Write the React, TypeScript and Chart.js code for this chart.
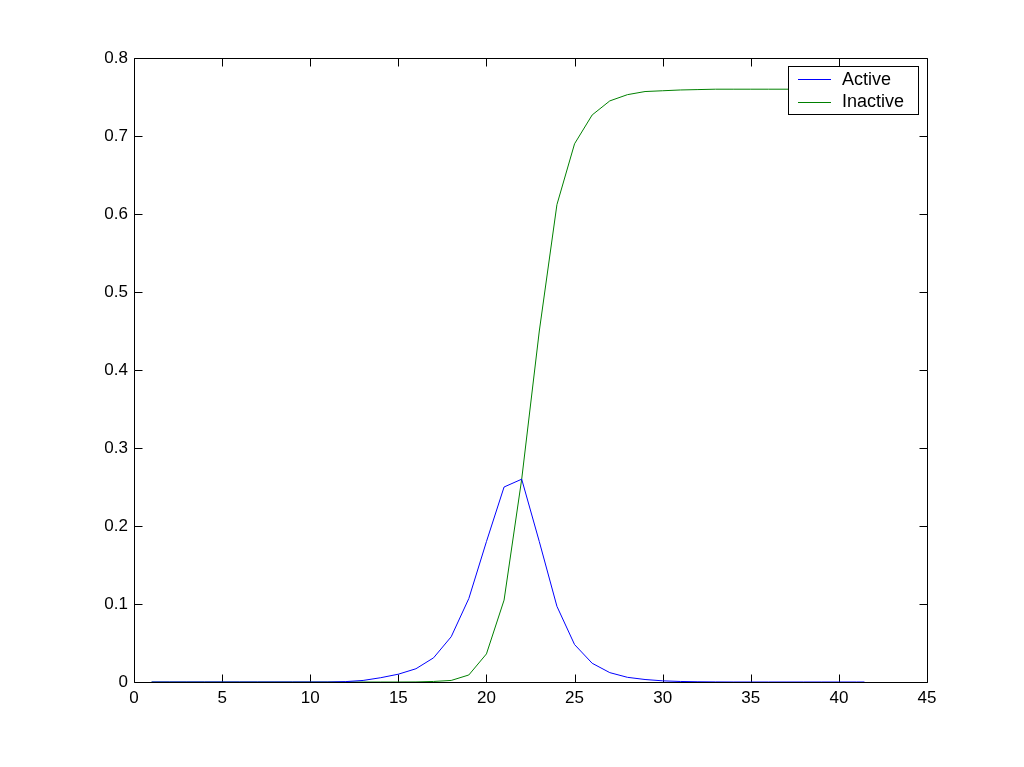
import React, { useEffect, useRef } from "react";
import { Chart, registerables } from "chart.js";

Chart.register(...registerables);

const xValues = [1, 2, 3, 4, 5, 6, 7, 8, 9, 10, 11, 12, 13, 14, 15, 16, 17, 18, 19, 20, 21, 22, 23, 24, 25, 26, 27, 28, 29, 30, 31, 32, 33, 34, 35, 36, 37, 38, 39, 40, 41, 41.45];
const activeValues = [0, 0, 0, 0, 0, 0, 0, 0, 0, 0, 0, 0.0005, 0.002, 0.0055, 0.01, 0.017, 0.031, 0.058, 0.107, 0.18, 0.25, 0.26, 0.18, 0.097, 0.048, 0.024, 0.012, 0.006, 0.0032, 0.0015, 0.0007, 0.0003, 0.0001, 0, 0, 0, 0, 0, 0, 0, 0, 0];
const inactiveValues = [0, 0, 0, 0, 0, 0, 0, 0, 0, 0, 0, 0, 0, 0, 0, 0.0001, 0.0007, 0.002, 0.009, 0.036, 0.105, 0.26, 0.45, 0.612, 0.69, 0.727, 0.745, 0.753, 0.757, 0.758, 0.759, 0.7595, 0.76, 0.76, 0.76, 0.76, 0.76, 0.76, 0.76, 0.76, 0.76, 0.76];
const seriesLabels = ["Active", "Inactive"];
const seriesColors = ["#0000ff", "#008000"];
const xTicks = [0, 5, 10, 15, 20, 25, 30, 35, 40, 45];
const yTicks = [0, 0.1, 0.2, 0.3, 0.4, 0.5, 0.6, 0.7, 0.8];

const FONT = "'Liberation Sans', Arial, Helvetica, sans-serif";

const framePlugin = {
  id: "matlabFrame",
  beforeDatasetsDraw(chart: any) {
    const { ctx, chartArea } = chart;
    const xs = chart.scales.x;
    const ys = chart.scales.y;
    const l = Math.round(chartArea.left) + 0.5;
    const r = Math.round(chartArea.right) + 0.5;
    const t = Math.round(chartArea.top) + 0.5;
    const b = Math.round(chartArea.bottom) + 0.5;
    const tl = 8;
    ctx.save();
    ctx.strokeStyle = "#000";
    ctx.lineWidth = 1;
    ctx.beginPath();
    ctx.rect(l, t, r - l, b - t);
    for (const v of xTicks) {
      const px = Math.round(xs.getPixelForValue(v)) + 0.5;
      ctx.moveTo(px, b);
      ctx.lineTo(px, b - tl);
      ctx.moveTo(px, t);
      ctx.lineTo(px, t + tl);
    }
    for (const v of yTicks) {
      const py = Math.round(ys.getPixelForValue(v)) + 0.5;
      ctx.moveTo(l, py);
      ctx.lineTo(l + tl, py);
      ctx.moveTo(r, py);
      ctx.lineTo(r - tl, py);
    }
    ctx.stroke();
    ctx.restore();
  },
  afterDraw(chart: any) {
    const { ctx } = chart;
    ctx.save();
    const bx = 788.5, by = 66.5, bw = 130, bh = 48;
    ctx.fillStyle = "#fff";
    ctx.fillRect(bx, by, bw, bh);
    ctx.strokeStyle = "#000";
    ctx.lineWidth = 1;
    ctx.strokeRect(bx, by, bw, bh);
    ctx.font = `18px ${FONT}`;
    ctx.textBaseline = "middle";
    ctx.textAlign = "left";
    const rows = [79, 101.5];
    chart.data.datasets.forEach((ds: any, i: number) => {
      const yy = Math.round(rows[i]) + 0.5;
      ctx.strokeStyle = seriesColors[i];
      ctx.beginPath();
      ctx.moveTo(798, yy);
      ctx.lineTo(831, yy);
      ctx.stroke();
      ctx.fillStyle = "#000";
      ctx.fillText(ds.label, 842, rows[i] + 1);
    });
    ctx.restore();
  },
};

export default function App() {
  const ref = useRef<HTMLCanvasElement | null>(null);
  useEffect(() => {
    if (!ref.current) return;
    const mk = (vals: number[]) => xValues.map((x, i) => ({ x, y: vals[i] }));
    const chart = new Chart(ref.current, {
      type: "line",
      data: {
        datasets: [
          {
            label: seriesLabels[0],
            data: mk(activeValues),
            borderColor: seriesColors[0],
            backgroundColor: seriesColors[0],
            borderWidth: 1,
            pointRadius: 0,
            tension: 0,
            order: 0,
          },
          {
            label: seriesLabels[1],
            data: mk(inactiveValues),
            borderColor: seriesColors[1],
            backgroundColor: seriesColors[1],
            borderWidth: 1,
            pointRadius: 0,
            tension: 0,
            order: 1,
          },
        ],
      },
      options: {
        animation: false,
        responsive: false,
        maintainAspectRatio: false,
        layout: { padding: { left: 0, top: 58, right: 97, bottom: 0 } },
        plugins: { legend: { display: false }, tooltip: { enabled: false } },
        scales: {
          x: {
            type: "linear",
            min: 0,
            max: 45,
            afterFit: (s: any) => { s.height = 85; },
            afterBuildTicks: (s: any) => { s.ticks = xTicks.map((v) => ({ value: v })); },
            grid: { display: false, drawTicks: false },
            border: { display: false },
            ticks: { color: "#000", padding: 6, font: { size: 17, family: FONT }, maxRotation: 0 },
          },
          y: {
            type: "linear",
            min: 0,
            max: 0.8,
            afterFit: (s: any) => { s.width = 134; },
            afterBuildTicks: (s: any) => { s.ticks = yTicks.map((v) => ({ value: v })); },
            grid: { display: false, drawTicks: false },
            border: { display: false },
            ticks: { color: "#000", padding: 6, font: { size: 17, family: FONT } },
          },
        },
      },
      plugins: [framePlugin],
    });
    return () => chart.destroy();
  }, []);
  return (
    <div style={{ position: "absolute", left: 0, top: 0, width: 1024, height: 767, background: "#fff" }}>
      <canvas ref={ref} width={1024} height={767} style={{ width: 1024, height: 767 }} />
    </div>
  );
}
